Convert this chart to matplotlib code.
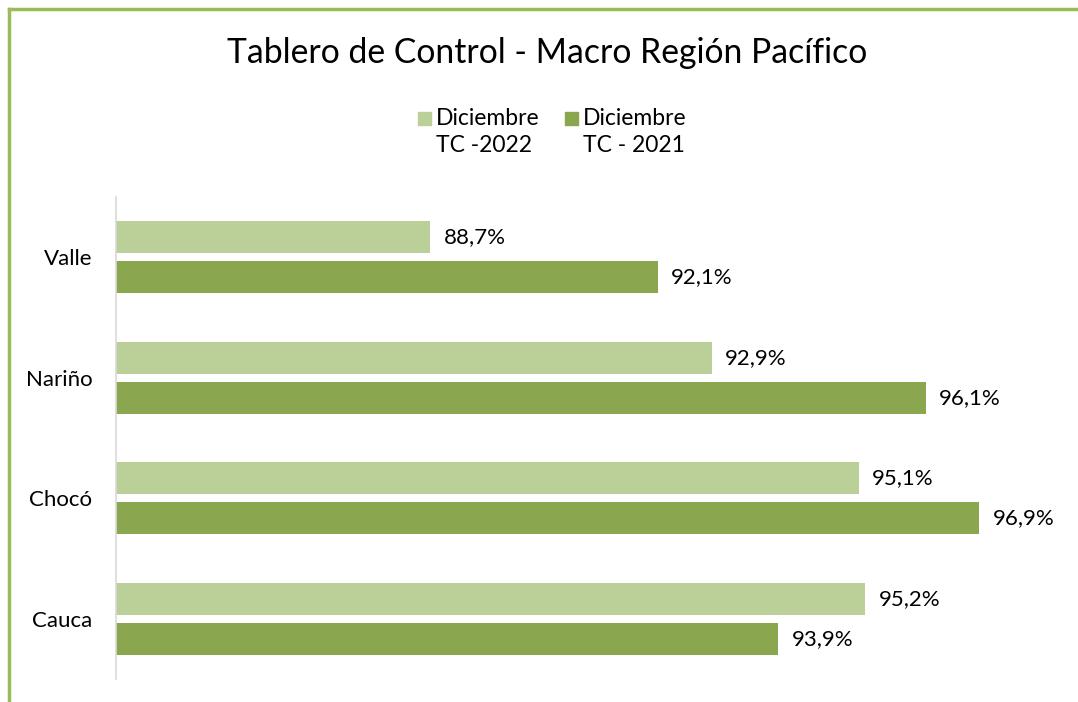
import numpy as np
import matplotlib.pyplot as plt
from matplotlib.lines import Line2D
from matplotlib.patches import Rectangle

# datos del tablero
regiones = ['Valle', 'Nariño', 'Chocó', 'Cauca']
tc_2022 = [88.7, 92.9, 95.1, 95.2]
tc_2021 = [92.1, 96.1, 96.9, 93.9]
series = ['Diciembre\nTC -2022', 'Diciembre\nTC - 2021']

color_claro = '#BBCF98'
color_oscuro = '#8AA64F'
color_borde = '#9BBB59'

plt.rcParams['font.family'] = ['Lato', 'DejaVu Sans']

fig = plt.figure(figsize=(10.78, 7.02), dpi=100)
ax = fig.add_axes([0.1076, 0.0328, 0.869, 0.6866])

y = np.arange(len(regiones))[::-1]
h = 0.266
off = 0.166

b1 = ax.barh(y + off, tc_2022, height=h, color=color_claro, left=0)
b2 = ax.barh(y - off, tc_2021, height=h, color=color_oscuro, left=0)

for yy, v in zip(y + off, tc_2022):
    ax.text(v + 0.2, yy, f'{v:.1f}%'.replace('.', ','), va='center', ha='left', fontsize=16)
for yy, v in zip(y - off, tc_2021):
    ax.text(v + 0.2, yy, f'{v:.1f}%'.replace('.', ','), va='center', ha='left', fontsize=16)

ax.set_xlim(84, 98)
ax.set_ylim(-0.5, 3.5)
ax.set_yticks(y)
ax.set_yticklabels(regiones, fontsize=16)
ax.tick_params(axis='y', length=0, pad=17)
ax.set_xticks([])
for s in ['top', 'right', 'bottom']:
    ax.spines[s].set_visible(False)
ax.spines['left'].set_color('#D9D9D9')
ax.spines['left'].set_linewidth(1.2)

fig.text(0.508, 1 - 53 / 702, 'Tablero de Control - Macro Región Pacífico', ha='center', va='center', fontsize=24.3)

# leyenda manual
W, H = 1078, 702
for x0, col, lab in [(418, color_claro, series[0]), (565, color_oscuro, series[1])]:
    fig.patches.append(Rectangle((x0 / W, 1 - 125 / H), 13 / W, 13 / H, color=col,
                                 transform=fig.transFigure))
    fig.text((x0 + 18) / W, 1 - 108 / H, lab, ha='left', va='top', fontsize=16.5, linespacing=1.35)

# borde verde
fig.add_artist(Line2D([9 / W, 1], [1 - 9 / H, 1 - 9 / H], color=color_borde, lw=2.5, transform=fig.transFigure))
fig.add_artist(Line2D([9 / W, 9 / W], [0, 1 - 9 / H], color=color_borde, lw=2.5, transform=fig.transFigure))

fig.savefig('out.png', dpi=100)
plt.close()
